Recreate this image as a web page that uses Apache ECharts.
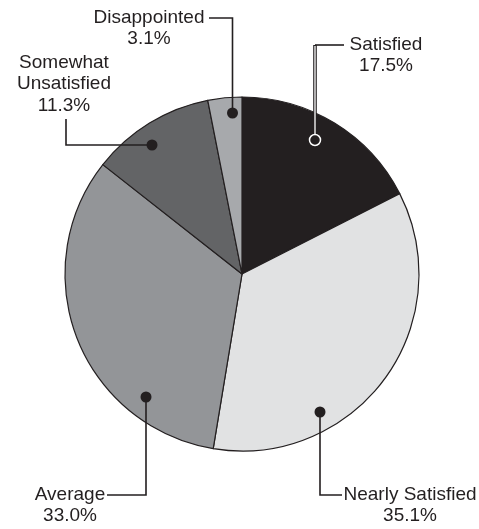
<!DOCTYPE html>
<html>
<head>
<meta charset="utf-8">
<script src="https://cdn.jsdelivr.net/npm/echarts@6/dist/echarts.min.js"></script>
<style>html,body{margin:0;padding:0;background:#fff;}#c{width:479px;height:529px;}</style>
</head>
<body>
<div id="c"></div>
<script>
// ---- data ----
const categories = ['Satisfied', 'Nearly Satisfied', 'Average', 'Somewhat Unsatisfied', 'Disappointed'];
const values = [17.5, 35.1, 33.0, 11.3, 3.1];
const colors = ['#231f20', '#e1e2e3', '#939598', '#636466', '#a7a9ac'];

// ---- annotation layout (pixels) ----
const pieCenter = [242, 274];
const pieRadius = 177;
const dots = [[315, 140], [320, 412], [146, 397], [152, 145], [232.5, 113]];
const elbows = [[315, 45], [320, 495], [146, 495], [66, 145], [232.5, 18]];
const lineEnds = [[344, 45], [342, 495], [107, 495], [66, 119], [209, 18]];
const textPos = [[386, 34], [410, 484], [70, 484], [64, 52], [149, 7]];

const ink = '#231f20';
const font = '19px "Liberation Sans", Arial, sans-serif';

const graphics = [];
categories.forEach((name, i) => {
  const d = dots[i], e = elbows[i], l = lineEnds[i];
  if (i === 0) {
    graphics.push({type: 'polyline', z: 10, shape: {points: [l, e]}, style: {stroke: ink, lineWidth: 1.6, fill: null}});
    graphics.push({type: 'line', z: 10, shape: {x1: e[0], y1: e[1], x2: d[0], y2: d[1]}, style: {stroke: ink, lineWidth: 3.6}});
    graphics.push({type: 'line', z: 11, shape: {x1: e[0], y1: e[1] + 1, x2: d[0], y2: d[1]}, style: {stroke: '#ffffff', lineWidth: 1.3}});
    graphics.push({type: 'circle', z: 12, shape: {cx: d[0], cy: d[1], r: 5.5}, style: {fill: ink, stroke: '#ffffff', lineWidth: 1.5}});
  } else {
    graphics.push({type: 'polyline', z: 10, shape: {points: [d, e, l]}, style: {stroke: ink, lineWidth: 1.6, fill: null}});
    graphics.push({type: 'circle', z: 12, shape: {cx: d[0], cy: d[1], r: 5.5}, style: {fill: ink}});
  }
  const label = (name === 'Somewhat Unsatisfied' ? 'Somewhat\nUnsatisfied' : name) + '\n' + values[i].toFixed(1) + '%';
  graphics.push({
    type: 'text', z: 12, x: textPos[i][0], y: textPos[i][1],
    style: {text: label, font: font, fill: ink, align: 'center', verticalAlign: 'top', lineHeight: 21.5}
  });
});

const chart = echarts.init(document.getElementById('c'), null, {renderer: 'canvas'});
chart.setOption({
  animation: false,
  backgroundColor: '#ffffff',
  series: [{
    type: 'pie',
    center: pieCenter,
    radius: pieRadius,
    startAngle: 90,
    clockwise: true,
    silent: true,
    label: {show: false},
    labelLine: {show: false},
    itemStyle: {borderColor: ink, borderWidth: 1.2},
    data: categories.map((n, i) => ({name: n, value: values[i], itemStyle: {color: colors[i]}}))
  }],
  graphic: graphics
});
</script>
</body>
</html>
